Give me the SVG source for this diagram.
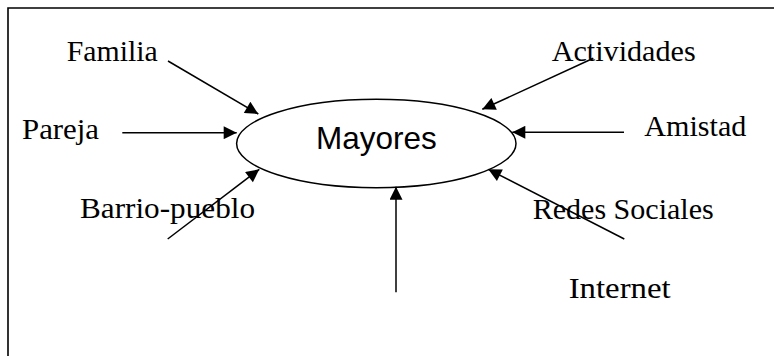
<svg xmlns="http://www.w3.org/2000/svg" width="774" height="356" viewBox="0 0 774 356">
<style>
.lbl{font-family:"Liberation Serif","Times New Roman",serif;font-size:29.5px;fill:#000}
.main{font-family:"Liberation Sans",Arial,sans-serif;font-size:30.5px;fill:#000}
.c{stroke:#000;stroke-width:1.5;fill:none;marker-end:url(#ah)}
</style>
<defs>
<marker id="ah" viewBox="0 0 10 10" refX="10" refY="5" markerUnits="userSpaceOnUse" markerWidth="15" markerHeight="13" orient="auto">
<path d="M0,0 L10,5 L0,10 z" fill="#000"/>
</marker>
</defs>
<rect width="774" height="356" fill="#fff"/>
<path d="M8,356 V8 H774" stroke="#000" stroke-width="1.6" fill="none"/>
<g id="mayores">
<ellipse cx="376.3" cy="143.5" rx="139.7" ry="44.2" fill="#fff" stroke="#000" stroke-width="1.5"/>
<text class="main" x="316" y="149.3" textLength="120.7" lengthAdjust="spacingAndGlyphs">Mayores</text>
</g>
<g id="familia"><text class="lbl" x="66.7" y="61" textLength="91" lengthAdjust="spacingAndGlyphs">Familia</text></g>
<g id="pareja"><text class="lbl" x="22" y="139" textLength="77" lengthAdjust="spacingAndGlyphs">Pareja</text></g>
<g id="barrio"><text class="lbl" x="80" y="218.3" textLength="175" lengthAdjust="spacingAndGlyphs">Barrio-pueblo</text></g>
<g id="actividades"><text class="lbl" x="551.7" y="61" textLength="144" lengthAdjust="spacingAndGlyphs">Actividades</text></g>
<g id="amistad"><text class="lbl" x="644.3" y="136" textLength="102" lengthAdjust="spacingAndGlyphs">Amistad</text></g>
<g id="redes"><text class="lbl" x="532.7" y="219" textLength="181" lengthAdjust="spacingAndGlyphs">Redes Sociales</text></g>
<g id="internet"><text class="lbl" x="568.7" y="297.7" textLength="102" lengthAdjust="spacingAndGlyphs">Internet</text></g>
<g id="connectors">
<line class="c" x1="168" y1="61" x2="258.3" y2="114"/>
<line class="c" x1="122.3" y1="132.7" x2="236.7" y2="132.7"/>
<line class="c" x1="167.7" y1="239" x2="259.3" y2="169.3"/>
<line class="c" x1="593.3" y1="58.3" x2="482.3" y2="109.3"/>
<line class="c" x1="624" y1="132.3" x2="512.3" y2="132.3"/>
<line class="c" x1="624.3" y1="239" x2="488.3" y2="169.3"/>
<line class="c" x1="396" y1="292.3" x2="396" y2="186.7"/>
</g>
</svg>
